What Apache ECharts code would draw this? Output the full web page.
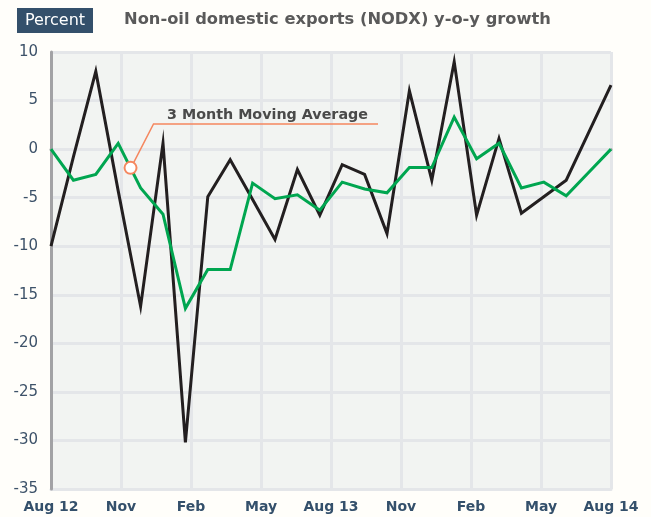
<!DOCTYPE html>
<html>
<head>
<meta charset="utf-8">
<script src="https://cdn.jsdelivr.net/npm/echarts@6/dist/echarts.min.js"></script>
<style>
  html, body { margin: 0; padding: 0; background: #fffefa; }
  #chart { width: 651px; height: 517px; }
</style>
</head>
<body>
<div id="chart"></div>
<script>
// Quarter labels along the bottom axis
const axisLabels = ['Aug 12', 'Nov', 'Feb', 'May', 'Aug 13', 'Nov', 'Feb', 'May', 'Aug 14'];

// Monthly NODX year-on-year growth, percent
const nodxGrowth = [-10.0, -0.8, 8.0, -4.3, -16.2, 0.6, -30.2, -4.9, -1.1, -5.2, -9.3, -2.1, -6.8,
                    -1.6, -2.6, -8.7, 6.0, -3.2, 9.0, -6.8, 1.1, -6.6, -4.9, -3.2, 1.7, 6.6];

// 3 month moving average of the same series, percent
const movingAverage = [0.0, -3.2, -2.6, 0.6, -4.0, -6.7, -16.4, -12.4, -12.4, -3.5, -5.1, -4.7, -6.3,
                       -3.4, -4.1, -4.5, -1.9, -1.9, 3.3, -1.0, 0.6, -4.0, -3.4, -4.8, -2.4, 0.0];

// Value axis range
const yMin = -35, yMax = 10, yStep = 5;

// Where the callout touches the moving-average line (fractional month index)
const calloutAt = 3.55;

const chart = echarts.init(document.getElementById('chart'), null, { renderer: 'canvas' });

const font = '"DejaVu Sans", "Open Sans", sans-serif';
const gridColor = '#e4e6e9';
const axisGrey = '#a2a2a5';

chart.setOption({
  backgroundColor: '#fffefa',
  animation: false,
  grid: {
    left: 51, right: 40, top: 52, bottom: 28,
    show: true, backgroundColor: '#f2f4f2', borderWidth: 0
  },
  xAxis: [
    {
      type: 'value', min: 0, max: nodxGrowth.length - 1,
      axisLine: { show: true, onZero: true, lineStyle: { color: axisGrey, width: 3 } },
      axisTick: { show: false }, axisLabel: { show: false }, splitLine: { show: false },
      z: 1
    },
    {
      type: 'category', data: axisLabels, boundaryGap: false, position: 'bottom',
      axisLine: { show: true, onZero: false, lineStyle: { color: gridColor, width: 3 } },
      axisTick: { show: false },
      axisLabel: {
        interval: 0, hideOverlap: false,
        color: '#34506b', fontFamily: font, fontWeight: 'bold', fontSize: 14, margin: 11
      },
      splitLine: { show: true, interval: 0, lineStyle: { color: gridColor, width: 3 } },
      z: 0
    }
  ],
  yAxis: {
    type: 'value', min: yMin, max: yMax, interval: yStep,
    axisLine: { show: true, lineStyle: { color: axisGrey, width: 3 } },
    axisTick: { show: false },
    axisLabel: { color: '#3d5269', fontFamily: font, fontSize: 15, margin: 13 },
    splitLine: { show: true, lineStyle: { color: gridColor, width: 3 } },
    z: 2
  },
  series: [
    {
      name: 'NODX y-o-y growth', type: 'line', xAxisIndex: 0,
      data: nodxGrowth.map((v, i) => [i, v]),
      symbol: 'none',
      lineStyle: { color: '#231f20', width: 3, join: 'miter' },
      z: 3
    },
    {
      name: '3 Month Moving Average', type: 'line', xAxisIndex: 0,
      data: movingAverage.map((v, i) => [i, v]),
      symbol: 'none',
      lineStyle: { color: '#00a650', width: 3, join: 'miter' },
      z: 4
    }
  ]
});

// Callout: circle on the moving-average line, leader line and label
const i0 = Math.floor(calloutAt), t = calloutAt - i0;
const calloutVal = movingAverage[i0] + (movingAverage[i0 + 1] - movingAverage[i0]) * t;
const [cx, cy] = chart.convertToPixel({ xAxisIndex: 0, yAxisIndex: 0 }, [calloutAt, calloutVal]);
const orange = '#f5875f';
const elbowX = cx + 23, elbowY = 124;

chart.setOption({
  graphic: [
    { type: 'rect', shape: { x: 17, y: 8, width: 76, height: 25 }, style: { fill: '#34506b' }, z: 10 },
    { type: 'text', x: 55, y: 21, style: { text: 'Percent', fill: '#ffffff', font: '16px ' + font, align: 'center', verticalAlign: 'middle' }, z: 11 },
    { type: 'text', x: 124, y: 20, style: { text: 'Non-oil domestic exports (NODX) y-o-y growth', fill: '#5a5a5a', font: 'bold 16.3px ' + font, align: 'left', verticalAlign: 'middle' }, z: 11 },
    { type: 'polyline', shape: { points: [[cx + 3, cy - 5], [elbowX, elbowY], [378, elbowY]] }, style: { stroke: orange, lineWidth: 1.5, fill: null }, z: 20 },
    { type: 'circle', shape: { cx: cx, cy: cy, r: 6 }, style: { fill: '#ffffff', stroke: orange, lineWidth: 2 }, z: 21 },
    { type: 'text', x: 167, y: 115, style: { text: '3 Month Moving Average', fill: '#4a4a4a', font: 'bold 14.3px ' + font, align: 'left', verticalAlign: 'middle' }, z: 21 }
  ]
});
</script>
</body>
</html>
